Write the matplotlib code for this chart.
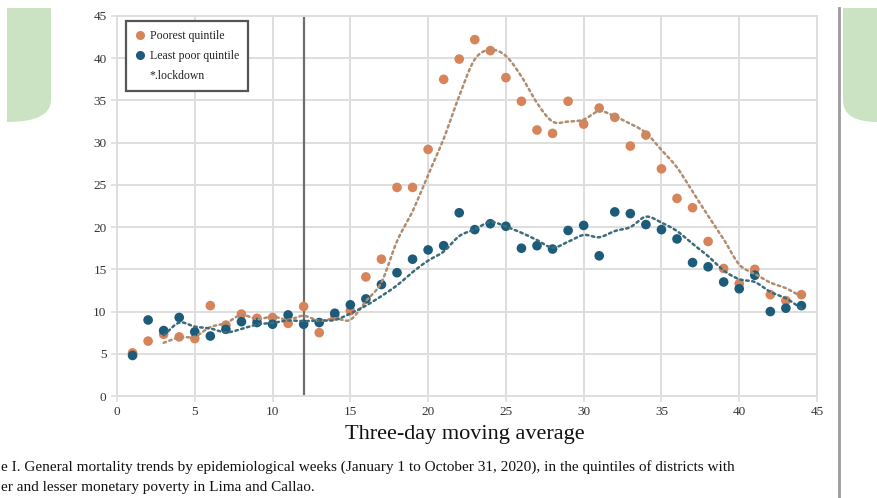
import numpy as np
import pandas as pd
import matplotlib.pyplot as plt
from matplotlib.lines import Line2D
from matplotlib.path import Path
from matplotlib.patches import PathPatch

weeks = np.arange(1, 45)
poorest = [5.1, 6.5, 7.3, 7.0, 6.8, 10.7, 8.4, 9.7, 9.2, 9.3, 8.6, 10.6, 7.5, 9.5,
           10.1, 14.1, 16.2, 24.7, 24.7, 29.2, 37.5, 39.9, 42.2, 40.9, 37.7, 34.9,
           31.5, 31.1, 34.9, 32.2, 34.1, 33.0, 29.6, 30.9, 26.9, 23.4, 22.3, 18.3,
           15.1, 13.3, 15.0, 12.0, 11.3, 12.0]
least_poor = [4.8, 9.0, 7.75, 9.3, 7.6, 7.1, 7.9, 8.8, 8.7, 8.5, 9.6, 8.5, 8.7, 9.8,
              10.8, 11.5, 13.2, 14.6, 16.2, 17.3, 17.8, 21.7, 19.7, 20.4, 20.1, 17.5,
              17.8, 17.4, 19.6, 20.2, 16.6, 21.8, 21.6, 20.3, 19.7, 18.6, 15.8, 15.3,
              13.5, 12.7, 14.3, 10.0, 10.4, 10.7]
lockdown_week = 12

plt.rcParams['font.family'] = ['Liberation Serif', 'DejaVu Serif']

W, H = 877, 498
fig = plt.figure(figsize=(W / 100, H / 100), dpi=100)
ax = fig.add_axes([117 / W, 1 - 396 / H, 700 / W, 380 / H])


def smooth(x, y, n=12):
    # catmull-rom through the moving average points
    x = np.asarray(x, float)
    y = np.asarray(y, float)
    px = np.concatenate([[2 * x[0] - x[1]], x, [2 * x[-1] - x[-2]]])
    py = np.concatenate([[2 * y[0] - y[1]], y, [2 * y[-1] - y[-2]]])
    xs, ys = [], []
    t = np.linspace(0, 1, n, endpoint=False)
    for i in range(1, len(px) - 2):
        for p, out in ((px, xs), (py, ys)):
            p0, p1, p2, p3 = p[i - 1], p[i], p[i + 1], p[i + 2]
            out.extend(0.5 * (2 * p1 + (-p0 + p2) * t
                              + (2 * p0 - 5 * p1 + 4 * p2 - p3) * t ** 2
                              + (-p0 + 3 * p1 - 3 * p2 + p3) * t ** 3))
    xs.append(x[-1])
    ys.append(y[-1])
    return np.array(xs), np.array(ys)


df = pd.DataFrame({'week': weeks, 'poorest': poorest, 'least': least_poor})
ma_poor = df['poorest'].rolling(3).mean()
ma_least = df['least'].rolling(3).mean()

orange = '#d8845a'
blue = '#1d5b7a'

ax.axvline(lockdown_week, color='#6e6e6e', lw=1.6, zorder=1.5)

ax.scatter(weeks, poorest, s=48, color=orange, zorder=3, edgecolors='none')
ax.scatter(weeks, least_poor, s=48, color=blue, zorder=4, edgecolors='none')

ok = ma_poor.notna()
sx, sy = smooth(df['week'][ok], ma_poor[ok])
ax.plot(sx, sy, color='#b08d70', lw=1.8, ls=(0, (1, 1.4)), dash_capstyle='round', zorder=5)
ok = ma_least.notna()
sx, sy = smooth(df['week'][ok], ma_least[ok])
ax.plot(sx, sy, color='#3c6c7c', lw=1.8, ls=(0, (1, 1.4)), dash_capstyle='round', zorder=5)

ax.set_xlim(0, 45)
ax.set_ylim(0, 45)
ax.set_xticks(np.arange(0, 46, 5))
ax.set_yticks(np.arange(0, 46, 5))
ax.grid(True, color='#dedede', lw=1.4)
ax.set_axisbelow(True)
for s in ax.spines.values():
    s.set_color('#dedede')
    s.set_linewidth(1.4)
ax.tick_params(axis='both', labelsize=9.5, colors='#dedede', labelcolor='#333333',
               length=4, width=1.2)
ax.tick_params(axis='x', pad=3)

handles = [Line2D([], [], ls='none', marker='o', ms=5.5, color=orange),
           Line2D([], [], ls='none', marker='o', ms=5.5, color=blue),
           Line2D([], [], ls='none')]
leg = ax.legend(handles, ['Poorest quintile', 'Least poor quintile', '*.lockdown'],
                loc='upper left', bbox_to_anchor=(0.013, 0.987), borderaxespad=0,
                fontsize=8.5, handlelength=0.8, handletextpad=0.4, labelspacing=0.65,
                borderpad=0.8, fancybox=False, framealpha=1)
leg.get_frame().set_edgecolor('#555555')
leg.get_frame().set_linewidth(1.6)
for t in leg.get_texts():
    t.set_color('#222222')

fig.text(465 / W, 1 - 434 / H, 'Three-day moving average', ha='center', va='center',
         fontsize=16, color='#111111')
fig.text(1 / W, 1 - 467 / H,
         'e I. General mortality trends by epidemiological weeks (January 1 to October 31, 2020), '
         'in the quintiles of districts with',
         ha='left', va='center', fontsize=11, color='#111111')
fig.text(1 / W, 1 - 487 / H, 'er and lesser monetary poverty in Lima and Callao.',
         ha='left', va='center', fontsize=11, color='#111111')

# page decorations at the edges
def fig_path(pts, codes):
    return Path([(x / W, 1 - y / H) for x, y in pts], codes)

green = '#cbe3c2'
left = fig_path([(7, 8), (51, 8), (51, 100), (51, 122), (7, 122), (7, 8)],
                [Path.MOVETO, Path.LINETO, Path.LINETO, Path.CURVE3, Path.CURVE3, Path.CLOSEPOLY])
right = fig_path([(843, 8), (877, 8), (877, 122), (843, 122), (843, 100), (843, 8)],
                 [Path.MOVETO, Path.LINETO, Path.LINETO, Path.CURVE3, Path.CURVE3, Path.CLOSEPOLY])
for p in (left, right):
    fig.patches.append(PathPatch(p, transform=fig.transFigure, facecolor=green,
                                 edgecolor='none'))
fig.add_artist(Line2D([839 / W, 839 / W], [0, 1 - 8 / H], transform=fig.transFigure,
                      color='#9c9c9c', lw=2))

fig.savefig('out.png', dpi=100)
